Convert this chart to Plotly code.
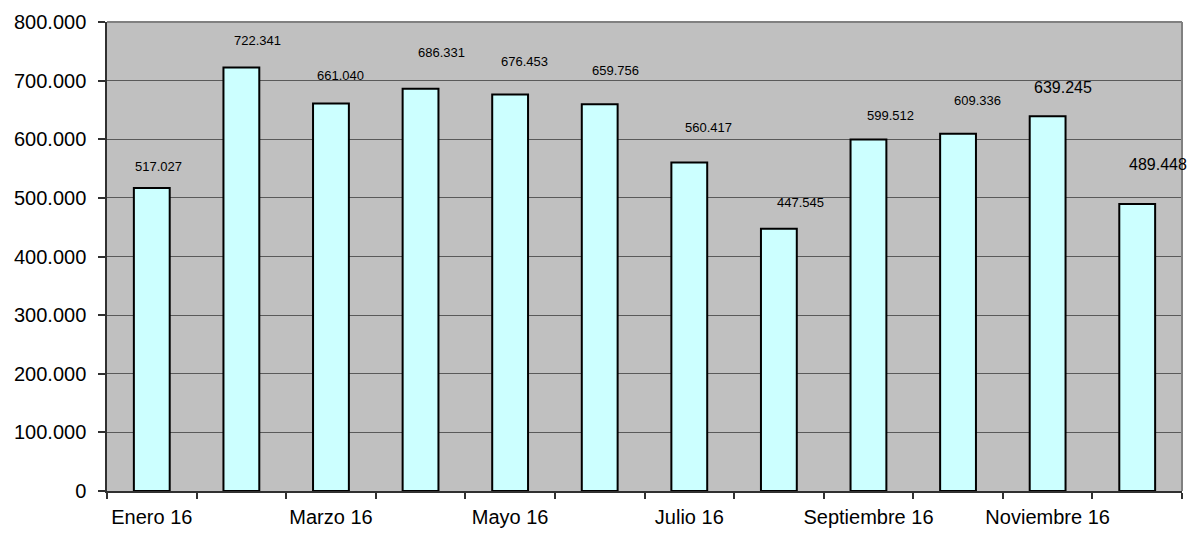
import plotly.graph_objects as go

months = ["Enero 16", "Febrero 16", "Marzo 16", "Abril 16", "Mayo 16", "Junio 16",
          "Julio 16", "Agosto 16", "Septiembre 16", "Octubre 16", "Noviembre 16", "Diciembre 16"]
values = [517027, 722341, 661040, 686331, 676453, 659756,
          560417, 447545, 599512, 609336, 639245, 489448]
y_ticks = [0, 100000, 200000, 300000, 400000, 500000, 600000, 700000, 800000]
title_text = "Certificados emitidos"

# label styling (pixel offsets from bar top, font sizes)
label_dx = [7, 16, 10, 21, 14, 16, 19, 22, 22, 19, 15, 21]
label_dy = [21, 27, 28, 36, 33, 34, 35, 26, 24, 33, 29, 40]
label_size = [13, 13, 13, 13, 13, 13, 13, 13, 13, 13, 16, 16]

def fmt(v):
    return f"{v:,}".replace(",", ".")

idx = list(range(len(months)))

fig = go.Figure()
fig.add_trace(go.Bar(
    x=idx, y=values, width=0.4,
    marker=dict(color="#CCFFFF", line=dict(color="black", width=2)),
    hoverinfo="skip",
))

for i, v in enumerate(values):
    fig.add_annotation(
        x=i, y=v, xref="x", yref="y", text=fmt(v), showarrow=False,
        xanchor="center", yanchor="middle", xshift=label_dx[i], yshift=label_dy[i],
        font=dict(family="Liberation Sans, Arial, sans-serif", size=label_size[i], color="black"),
    )

fig.add_annotation(
    x=0.47, y=1, xref="paper", yref="paper", text="<b>" + title_text + "</b>",
    showarrow=False, xanchor="center", yanchor="bottom", yshift=15,
    font=dict(family="Liberation Sans, Arial, sans-serif", size=26, color="black"),
)

fig.update_layout(
    width=1189, height=535,
    margin=dict(l=107, r=7, t=22, b=38),
    paper_bgcolor="white", plot_bgcolor="#C0C0C0",
    separators=",.",
    showlegend=False,
    font=dict(family="Liberation Sans, Arial, sans-serif", size=20, color="black"),
    xaxis=dict(
        range=[-0.5, len(months) - 0.5],
        tickmode="array",
        tickvals=idx[::2],
        ticktext=months[::2],
        ticks="",
        ticklabelstandoff=7,
        showgrid=False,
        zeroline=False,
        showline=True, linecolor="#303030", linewidth=1.5,
        tickfont=dict(size=20),
        minor=dict(tickmode="linear", tick0=-0.5, dtick=1, ticks="outside",
                   ticklen=6, tickcolor="#303030", tickwidth=1.5, showgrid=False),
        fixedrange=True,
    ),
    yaxis=dict(
        range=[0, 800000],
        tickmode="array",
        tickvals=y_ticks,
        tickformat=",d",
        ticks="outside", ticklen=7, tickcolor="#303030", tickwidth=1.5,
        ticklabelstandoff=8,
        showgrid=True, gridcolor="#5A5A5A", gridwidth=1,
        zeroline=False,
        showline=True, linecolor="#303030", linewidth=1.5,
        tickfont=dict(size=20),
        fixedrange=True,
    ),
    shapes=[dict(type="line", xref="paper", yref="paper", x0=0, x1=1, y0=1, y1=1,
                 line=dict(color="#808080", width=2)),
            dict(type="line", xref="paper", yref="paper", x0=1, x1=1, y0=0, y1=1,
                 line=dict(color="#808080", width=2))],
)

fig.write_html("out.html", config={"displayModeBar": False},
               post_script="document.body.style.margin='0';document.body.style.overflow='hidden';")
